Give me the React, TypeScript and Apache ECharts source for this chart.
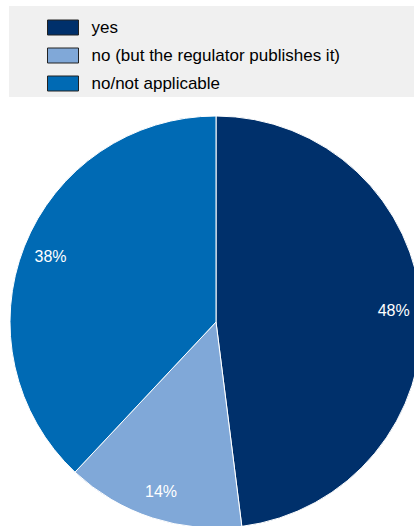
import React, { useEffect, useRef } from "react";
import * as echarts from "echarts";

const categories = ["yes", "no (but the regulator publishes it)", "no/not applicable"];
const values = [48, 14, 38];
const colors = ["#00306B", "#80A8D8", "#006AB4"];

export default function App() {
  const ref = useRef<HTMLDivElement>(null);
  useEffect(() => {
    const chart = echarts.init(ref.current!, null, { renderer: "svg" });
    const data = categories.map((name, i) => ({
      name,
      value: values[i],
      itemStyle: { color: colors[i] },
    }));
    chart.setOption({
      animation: false,
      graphic: [
        {
          type: "rect",
          shape: { x: 9, y: 6, width: 405, height: 91 },
          style: { fill: "#F0F0F0" },
          z: -10,
        },
      ],
      legend: {
        orient: "vertical",
        left: 47,
        top: 19,
        padding: 0,
        itemWidth: 31,
        itemHeight: 15,
        itemGap: 11,
        icon: "rect",
        data: categories.map((name, i) => ({
          name,
          itemStyle: { color: colors[i], borderColor: "#222", borderWidth: 1 },
        })),
        textStyle: {
          fontFamily: "Liberation Sans, Arial, sans-serif",
          fontSize: 17,
          color: "#000",
          lineHeight: 15,
          padding: [0, 0, 0, 8],
        },
      },
      series: [
        {
          type: "pie",
          center: [216, 322],
          radius: [0, 206],
          startAngle: 90,
          clockwise: true,
          label: { show: false },
          labelLine: { show: false },
          itemStyle: { borderColor: "#fff", borderWidth: 1 },
          emphasis: { disabled: true },
          data,
        },
        {
          type: "pie",
          center: [216, 322],
          radius: [144, 206],
          startAngle: 90,
          clockwise: true,
          silent: true,
          legendHoverLink: false,
          itemStyle: { color: "rgba(0,0,0,0)", borderWidth: 0 },
          label: {
            show: true,
            position: "inside",
            formatter: "{c}%",
            color: "#fff",
            fontFamily: "Liberation Sans, Arial, sans-serif",
            fontSize: 16,
          },
          labelLine: { show: false },
          emphasis: { disabled: true },
          data: categories.map((name, i) => ({ name: name + " ", value: values[i] })),
          z: 5,
        },
      ],
    });
    return () => chart.dispose();
  }, []);
  return (
    <div
      ref={ref}
      style={{ position: "fixed", left: 0, top: 0, width: 414, height: 526, background: "#fff" }}
    />
  );
}
